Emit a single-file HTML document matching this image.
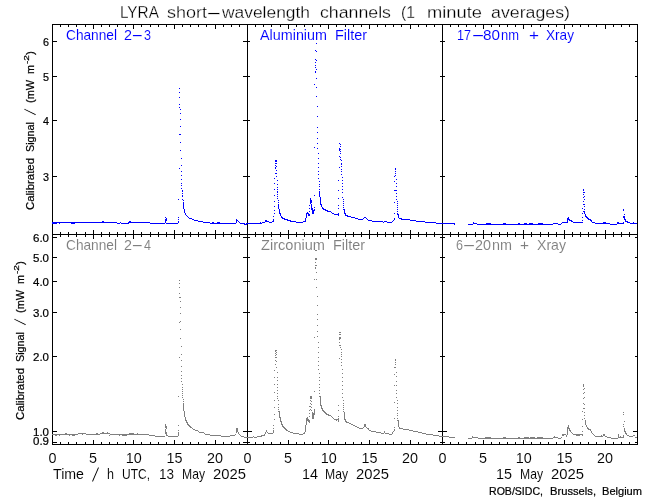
<!DOCTYPE html>
<html lang="en">
<head>
<meta charset="utf-8">
<title>LYRA short-wavelength channels (1 minute averages)</title>
<style>
html,body{margin:0;padding:0;background:#fff;}
svg{display:block;}
text{font-family:"Liberation Sans",sans-serif;white-space:pre;stroke:#fff;stroke-width:0;}
.L{font-size:17.4px;stroke-width:0.28px;}
.M{font-size:14.5px;stroke-width:0.08px;}
.S{font-size:11.6px;stroke:#000;stroke-width:0.22px;}
</style>
</head>
<body>
<svg width="650" height="500" viewBox="0 0 650 500">
<rect width="650" height="500" fill="#fff"/>
<g>
<text class="L" y="18"><tspan x="120" textLength="38" lengthAdjust="spacingAndGlyphs">LYRA</tspan> <tspan x="167" textLength="40" lengthAdjust="spacingAndGlyphs">short</tspan><tspan x="205.84" textLength="16.32" lengthAdjust="spacingAndGlyphs">-</tspan><tspan x="222" textLength="88" lengthAdjust="spacingAndGlyphs">wavelength</tspan> <tspan x="320" textLength="71" lengthAdjust="spacingAndGlyphs">channels</tspan> <tspan x="401" textLength="14" lengthAdjust="spacingAndGlyphs">(1</tspan> <tspan x="427" textLength="55" lengthAdjust="spacingAndGlyphs">minute</tspan> <tspan x="491" textLength="79" lengthAdjust="spacingAndGlyphs">averages)</tspan></text>
<text class="M" y="40" fill="#0000ff"><tspan x="66" textLength="51" lengthAdjust="spacingAndGlyphs">Channel</tspan> <tspan x="124" textLength="8" lengthAdjust="spacingAndGlyphs">2</tspan><tspan x="131.38" textLength="12.24" lengthAdjust="spacingAndGlyphs">-</tspan><tspan x="144" textLength="7" lengthAdjust="spacingAndGlyphs">3</tspan></text>
<text class="M" y="40" fill="#0000ff"><tspan x="260" textLength="67" lengthAdjust="spacingAndGlyphs">Aluminium</tspan> <tspan x="335" textLength="32" lengthAdjust="spacingAndGlyphs">Filter</tspan></text>
<text class="M" y="40" fill="#0000ff"><tspan x="457" textLength="14" lengthAdjust="spacingAndGlyphs">17</tspan><tspan x="471.2" textLength="13.6" lengthAdjust="spacingAndGlyphs">-</tspan><tspan x="483" textLength="17" lengthAdjust="spacingAndGlyphs">80</tspan><tspan x="501" textLength="18" lengthAdjust="spacingAndGlyphs">nm</tspan> <tspan x="529" textLength="10" lengthAdjust="spacingAndGlyphs">+</tspan> <tspan x="546" textLength="28" lengthAdjust="spacingAndGlyphs">Xray</tspan></text>
<text class="M" y="250" fill="#7f7f7f"><tspan x="66" textLength="51" lengthAdjust="spacingAndGlyphs">Channel</tspan> <tspan x="124" textLength="8" lengthAdjust="spacingAndGlyphs">2</tspan><tspan x="131.38" textLength="12.24" lengthAdjust="spacingAndGlyphs">-</tspan><tspan x="144" textLength="7" lengthAdjust="spacingAndGlyphs">4</tspan></text>
<text class="M" y="250" fill="#7f7f7f"><tspan x="261" textLength="64" lengthAdjust="spacingAndGlyphs">Zirconium</tspan> <tspan x="333" textLength="32" lengthAdjust="spacingAndGlyphs">Filter</tspan></text>
<text class="M" y="250" fill="#7f7f7f"><tspan x="456" textLength="7" lengthAdjust="spacingAndGlyphs">6</tspan><tspan x="462.2" textLength="13.6" lengthAdjust="spacingAndGlyphs">-</tspan><tspan x="475" textLength="16" lengthAdjust="spacingAndGlyphs">20</tspan><tspan x="492" textLength="20" lengthAdjust="spacingAndGlyphs">nm</tspan> <tspan x="520" textLength="9" lengthAdjust="spacingAndGlyphs">+</tspan> <tspan x="537" textLength="29" lengthAdjust="spacingAndGlyphs">Xray</tspan></text>
<text class="M" x="48.5" y="463" textLength="8" lengthAdjust="spacingAndGlyphs">0</text>
<text class="M" x="89.1" y="463" textLength="8" lengthAdjust="spacingAndGlyphs">5</text>
<text class="M" x="125.8" y="463" textLength="16" lengthAdjust="spacingAndGlyphs">10</text>
<text class="M" x="166.4" y="463" textLength="16" lengthAdjust="spacingAndGlyphs">15</text>
<text class="M" x="207.0" y="463" textLength="16" lengthAdjust="spacingAndGlyphs">20</text>
<text class="M" x="243.5" y="463" textLength="8" lengthAdjust="spacingAndGlyphs">0</text>
<text class="M" x="284.1" y="463" textLength="8" lengthAdjust="spacingAndGlyphs">5</text>
<text class="M" x="320.8" y="463" textLength="16" lengthAdjust="spacingAndGlyphs">10</text>
<text class="M" x="361.4" y="463" textLength="16" lengthAdjust="spacingAndGlyphs">15</text>
<text class="M" x="402.0" y="463" textLength="16" lengthAdjust="spacingAndGlyphs">20</text>
<text class="M" x="438.5" y="463" textLength="8" lengthAdjust="spacingAndGlyphs">0</text>
<text class="M" x="479.1" y="463" textLength="8" lengthAdjust="spacingAndGlyphs">5</text>
<text class="M" x="515.8" y="463" textLength="16" lengthAdjust="spacingAndGlyphs">10</text>
<text class="M" x="556.4" y="463" textLength="16" lengthAdjust="spacingAndGlyphs">15</text>
<text class="M" x="597.0" y="463" textLength="16" lengthAdjust="spacingAndGlyphs">20</text>
<text class="M" y="479"><tspan x="53" textLength="31" lengthAdjust="spacingAndGlyphs">Time</tspan> <tspan x="91" dy="2.5" font-size="20" stroke="#fff" stroke-width="0.9" textLength="9" lengthAdjust="spacingAndGlyphs">/</tspan><tspan dy="-2.5" font-size="1"> </tspan><tspan x="107" textLength="7" lengthAdjust="spacingAndGlyphs">h</tspan> <tspan x="122" textLength="28" lengthAdjust="spacingAndGlyphs">UTC,</tspan> <tspan x="159" textLength="15" lengthAdjust="spacingAndGlyphs">13</tspan> <tspan x="182" textLength="23" lengthAdjust="spacingAndGlyphs">May</tspan> <tspan x="213" textLength="33" lengthAdjust="spacingAndGlyphs">2025</tspan></text>
<text class="M" y="479"><tspan x="302" textLength="16" lengthAdjust="spacingAndGlyphs">14</tspan> <tspan x="325" textLength="23" lengthAdjust="spacingAndGlyphs">May</tspan> <tspan x="356" textLength="33" lengthAdjust="spacingAndGlyphs">2025</tspan></text>
<text class="M" y="479"><tspan x="496" textLength="16" lengthAdjust="spacingAndGlyphs">15</tspan> <tspan x="520" textLength="23" lengthAdjust="spacingAndGlyphs">May</tspan> <tspan x="551" textLength="33" lengthAdjust="spacingAndGlyphs">2025</tspan></text>
<text class="S" y="495"><tspan x="489" textLength="54" lengthAdjust="spacingAndGlyphs">ROB/SIDC,</tspan> <tspan x="550" textLength="46" lengthAdjust="spacingAndGlyphs">Brussels,</tspan> <tspan x="602" textLength="40" lengthAdjust="spacingAndGlyphs">Belgium</tspan></text>
<text class="S" x="43" y="46" textLength="6" lengthAdjust="spacingAndGlyphs">6</text>
<text class="S" x="43" y="81" textLength="6" lengthAdjust="spacingAndGlyphs">5</text>
<text class="S" x="43" y="125" textLength="6" lengthAdjust="spacingAndGlyphs">4</text>
<text class="S" x="43" y="181" textLength="6" lengthAdjust="spacingAndGlyphs">3</text>
<text class="S" x="33" y="242" textLength="16" lengthAdjust="spacingAndGlyphs">6.0</text>
<text class="S" x="33" y="262" textLength="16" lengthAdjust="spacingAndGlyphs">5.0</text>
<text class="S" x="33" y="286" textLength="16" lengthAdjust="spacingAndGlyphs">4.0</text>
<text class="S" x="33" y="317" textLength="16" lengthAdjust="spacingAndGlyphs">3.0</text>
<text class="S" x="33" y="361" textLength="16" lengthAdjust="spacingAndGlyphs">2.0</text>
<text class="S" x="33" y="436" textLength="16" lengthAdjust="spacingAndGlyphs">1.0</text>
<text class="S" x="33" y="445" textLength="16" lengthAdjust="spacingAndGlyphs">0.9</text>
<text class="S" transform="translate(34 210) rotate(-90)" y="0"><tspan x="0" textLength="52" lengthAdjust="spacingAndGlyphs">Calibrated</tspan> <tspan x="58" textLength="30" lengthAdjust="spacingAndGlyphs">Signal</tspan> <tspan x="94" dy="2" font-size="16" stroke="#fff" stroke-width="0.7" textLength="8" lengthAdjust="spacingAndGlyphs">/</tspan><tspan dy="-2" font-size="1"> </tspan><tspan x="107" textLength="23" lengthAdjust="spacingAndGlyphs">(mW</tspan> <tspan x="136" textLength="9" lengthAdjust="spacingAndGlyphs">m</tspan><tspan x="146" textLength="9" lengthAdjust="spacingAndGlyphs" dy="-5" font-size="7.5">-2</tspan><tspan x="155" textLength="4" lengthAdjust="spacingAndGlyphs" dy="5">)</tspan></text>
<text class="S" transform="translate(24 420) rotate(-90)" y="0"><tspan x="0" textLength="52" lengthAdjust="spacingAndGlyphs">Calibrated</tspan> <tspan x="58" textLength="30" lengthAdjust="spacingAndGlyphs">Signal</tspan> <tspan x="94" dy="2" font-size="16" stroke="#fff" stroke-width="0.7" textLength="8" lengthAdjust="spacingAndGlyphs">/</tspan><tspan dy="-2" font-size="1"> </tspan><tspan x="107" textLength="23" lengthAdjust="spacingAndGlyphs">(mW</tspan> <tspan x="136" textLength="9" lengthAdjust="spacingAndGlyphs">m</tspan><tspan x="146" textLength="9" lengthAdjust="spacingAndGlyphs" dy="-5" font-size="7.5">-2</tspan><tspan x="155" textLength="4" lengthAdjust="spacingAndGlyphs" dy="5">)</tspan></text>
</g>
<g shape-rendering="crispEdges">
<path fill="#000" d="M52 24h586v1h-586zM52 234h586v1h-586zM52 444h586v1h-586zM52 24h1v421h-1zM247 24h1v421h-1zM442 24h1v421h-1zM637 24h1v421h-1zM60 25h1v2h-1zM60 232h1v5h-1zM60 442h1v2h-1zM68 25h1v2h-1zM68 232h1v5h-1zM68 442h1v2h-1zM76 25h1v2h-1zM76 232h1v5h-1zM76 442h1v2h-1zM85 25h1v2h-1zM85 232h1v5h-1zM85 442h1v2h-1zM93 25h1v4h-1zM93 230h1v9h-1zM93 440h1v4h-1zM101 25h1v2h-1zM101 232h1v5h-1zM101 442h1v2h-1zM109 25h1v2h-1zM109 232h1v5h-1zM109 442h1v2h-1zM117 25h1v2h-1zM117 232h1v5h-1zM117 442h1v2h-1zM125 25h1v2h-1zM125 232h1v5h-1zM125 442h1v2h-1zM133 25h1v4h-1zM133 230h1v9h-1zM133 440h1v4h-1zM141 25h1v2h-1zM141 232h1v5h-1zM141 442h1v2h-1zM150 25h1v2h-1zM150 232h1v5h-1zM150 442h1v2h-1zM158 25h1v2h-1zM158 232h1v5h-1zM158 442h1v2h-1zM166 25h1v2h-1zM166 232h1v5h-1zM166 442h1v2h-1zM174 25h1v4h-1zM174 230h1v9h-1zM174 440h1v4h-1zM182 25h1v2h-1zM182 232h1v5h-1zM182 442h1v2h-1zM190 25h1v2h-1zM190 232h1v5h-1zM190 442h1v2h-1zM198 25h1v2h-1zM198 232h1v5h-1zM198 442h1v2h-1zM206 25h1v2h-1zM206 232h1v5h-1zM206 442h1v2h-1zM215 25h1v4h-1zM215 230h1v9h-1zM215 440h1v4h-1zM223 25h1v2h-1zM223 232h1v5h-1zM223 442h1v2h-1zM231 25h1v2h-1zM231 232h1v5h-1zM231 442h1v2h-1zM239 25h1v2h-1zM239 232h1v5h-1zM239 442h1v2h-1zM255 25h1v2h-1zM255 232h1v5h-1zM255 442h1v2h-1zM263 25h1v2h-1zM263 232h1v5h-1zM263 442h1v2h-1zM271 25h1v2h-1zM271 232h1v5h-1zM271 442h1v2h-1zM280 25h1v2h-1zM280 232h1v5h-1zM280 442h1v2h-1zM288 25h1v4h-1zM288 230h1v9h-1zM288 440h1v4h-1zM296 25h1v2h-1zM296 232h1v5h-1zM296 442h1v2h-1zM304 25h1v2h-1zM304 232h1v5h-1zM304 442h1v2h-1zM312 25h1v2h-1zM312 232h1v5h-1zM312 442h1v2h-1zM320 25h1v2h-1zM320 232h1v5h-1zM320 442h1v2h-1zM328 25h1v4h-1zM328 230h1v9h-1zM328 440h1v4h-1zM336 25h1v2h-1zM336 232h1v5h-1zM336 442h1v2h-1zM345 25h1v2h-1zM345 232h1v5h-1zM345 442h1v2h-1zM353 25h1v2h-1zM353 232h1v5h-1zM353 442h1v2h-1zM361 25h1v2h-1zM361 232h1v5h-1zM361 442h1v2h-1zM369 25h1v4h-1zM369 230h1v9h-1zM369 440h1v4h-1zM377 25h1v2h-1zM377 232h1v5h-1zM377 442h1v2h-1zM385 25h1v2h-1zM385 232h1v5h-1zM385 442h1v2h-1zM393 25h1v2h-1zM393 232h1v5h-1zM393 442h1v2h-1zM401 25h1v2h-1zM401 232h1v5h-1zM401 442h1v2h-1zM410 25h1v4h-1zM410 230h1v9h-1zM410 440h1v4h-1zM418 25h1v2h-1zM418 232h1v5h-1zM418 442h1v2h-1zM426 25h1v2h-1zM426 232h1v5h-1zM426 442h1v2h-1zM434 25h1v2h-1zM434 232h1v5h-1zM434 442h1v2h-1zM450 25h1v2h-1zM450 232h1v5h-1zM450 442h1v2h-1zM458 25h1v2h-1zM458 232h1v5h-1zM458 442h1v2h-1zM466 25h1v2h-1zM466 232h1v5h-1zM466 442h1v2h-1zM475 25h1v2h-1zM475 232h1v5h-1zM475 442h1v2h-1zM483 25h1v4h-1zM483 230h1v9h-1zM483 440h1v4h-1zM491 25h1v2h-1zM491 232h1v5h-1zM491 442h1v2h-1zM499 25h1v2h-1zM499 232h1v5h-1zM499 442h1v2h-1zM507 25h1v2h-1zM507 232h1v5h-1zM507 442h1v2h-1zM515 25h1v2h-1zM515 232h1v5h-1zM515 442h1v2h-1zM523 25h1v4h-1zM523 230h1v9h-1zM523 440h1v4h-1zM531 25h1v2h-1zM531 232h1v5h-1zM531 442h1v2h-1zM540 25h1v2h-1zM540 232h1v5h-1zM540 442h1v2h-1zM548 25h1v2h-1zM548 232h1v5h-1zM548 442h1v2h-1zM556 25h1v2h-1zM556 232h1v5h-1zM556 442h1v2h-1zM564 25h1v4h-1zM564 230h1v9h-1zM564 440h1v4h-1zM572 25h1v2h-1zM572 232h1v5h-1zM572 442h1v2h-1zM580 25h1v2h-1zM580 232h1v5h-1zM580 442h1v2h-1zM588 25h1v2h-1zM588 232h1v5h-1zM588 442h1v2h-1zM596 25h1v2h-1zM596 232h1v5h-1zM596 442h1v2h-1zM605 25h1v4h-1zM605 230h1v9h-1zM605 440h1v4h-1zM613 25h1v2h-1zM613 232h1v5h-1zM613 442h1v2h-1zM621 25h1v2h-1zM621 232h1v5h-1zM621 442h1v2h-1zM629 25h1v2h-1zM629 232h1v5h-1zM629 442h1v2h-1zM53 41h4v1h-4zM243 41h4v1h-4zM248 41h2v1h-2zM440 41h2v1h-2zM443 41h2v1h-2zM635 41h2v1h-2zM53 76h4v1h-4zM243 76h4v1h-4zM248 76h2v1h-2zM440 76h2v1h-2zM443 76h2v1h-2zM635 76h2v1h-2zM53 120h4v1h-4zM243 120h4v1h-4zM248 120h2v1h-2zM440 120h2v1h-2zM443 120h2v1h-2zM635 120h2v1h-2zM53 176h4v1h-4zM243 176h4v1h-4zM248 176h2v1h-2zM440 176h2v1h-2zM443 176h2v1h-2zM635 176h2v1h-2zM53 237h4v1h-4zM243 237h4v1h-4zM248 237h2v1h-2zM440 237h2v1h-2zM443 237h2v1h-2zM635 237h2v1h-2zM53 257h4v1h-4zM243 257h4v1h-4zM248 257h2v1h-2zM440 257h2v1h-2zM443 257h2v1h-2zM635 257h2v1h-2zM53 281h4v1h-4zM243 281h4v1h-4zM248 281h2v1h-2zM440 281h2v1h-2zM443 281h2v1h-2zM635 281h2v1h-2zM53 312h4v1h-4zM243 312h4v1h-4zM248 312h2v1h-2zM440 312h2v1h-2zM443 312h2v1h-2zM635 312h2v1h-2zM53 356h4v1h-4zM243 356h4v1h-4zM248 356h2v1h-2zM440 356h2v1h-2zM443 356h2v1h-2zM635 356h2v1h-2zM53 431h4v1h-4zM243 431h4v1h-4zM248 431h4v1h-4zM438 431h4v1h-4zM443 431h4v1h-4zM633 431h4v1h-4zM53 442h4v1h-4zM243 442h4v1h-4zM248 442h2v1h-2zM440 442h2v1h-2zM443 442h2v1h-2zM635 442h2v1h-2z"/>
<path fill="#0000ff" d="M316 43h1v1h-1zM315 50h1v1h-1zM316 51h1v1h-1zM315 59h1v1h-1zM316 60h1v1h-1zM315 62h1v1h-1zM315 65h1v1h-1zM315 67h1v1h-1zM316 69h1v1h-1zM315 71h1v1h-1zM315 72h1v1h-1zM316 78h1v1h-1zM314 84h1v1h-1zM316 87h1v1h-1zM179 88h1v1h-1zM179 92h1v1h-1zM316 96h1v1h-1zM179 97h1v1h-1zM179 104h1v1h-1zM317 106h1v1h-1zM179 107h1v1h-1zM180 109h1v1h-1zM180 113h1v1h-1zM317 116h1v1h-1zM180 119h1v1h-1zM180 126h1v1h-1zM317 127h1v1h-1zM317 132h1v1h-1zM179 134h2v1h-2zM317 138h1v1h-1zM180 142h1v1h-1zM317 143h1v1h-1zM339 143h1v1h-1zM340 144h1v1h-1zM340 146h1v1h-1zM314 147h1v1h-1zM317 148h1v1h-1zM339 148h1v1h-1zM339 149h2v1h-2zM180 150h1v1h-1zM339 150h1v1h-1zM340 151h1v1h-1zM318 153h1v1h-1zM340 153h1v1h-1zM339 156h1v1h-1zM340 157h1v1h-1zM181 158h1v1h-1zM318 158h1v1h-1zM340 159h1v1h-1zM275 160h2v1h-2zM341 160h1v1h-1zM275 161h2v1h-2zM275 163h2v1h-2zM318 163h1v1h-1zM341 163h1v1h-1zM341 164h1v1h-1zM181 165h1v1h-1zM275 165h1v1h-1zM276 166h1v1h-1zM341 166h1v1h-1zM275 167h1v1h-1zM318 167h1v1h-1zM339 167h1v1h-1zM179 168h1v1h-1zM275 168h1v1h-1zM395 168h1v1h-1zM341 169h1v1h-1zM395 169h1v1h-1zM276 170h1v1h-1zM181 171h1v1h-1zM318 171h1v1h-1zM341 171h1v1h-1zM395 171h1v1h-1zM275 173h2v1h-2zM395 173h1v1h-1zM318 174h1v1h-1zM341 174h1v1h-1zM181 175h1v1h-1zM395 175h1v1h-1zM276 176h1v1h-1zM394 176h1v1h-1zM342 177h1v1h-1zM274 178h1v1h-1zM318 178h1v1h-1zM181 179h1v1h-1zM396 179h1v1h-1zM277 180h1v1h-1zM338 180h1v1h-1zM342 180h1v1h-1zM319 181h1v1h-1zM394 181h1v1h-1zM181 183h1v1h-1zM274 183h1v1h-1zM342 183h1v1h-1zM396 183h1v1h-1zM277 184h1v1h-1zM319 184h1v1h-1zM181 185h1v1h-1zM319 186h1v1h-1zM342 186h1v1h-1zM396 186h1v1h-1zM277 187h1v1h-1zM181 188h1v1h-1zM274 189h1v1h-1zM277 189h1v1h-1zM319 189h1v1h-1zM342 189h1v1h-1zM583 189h1v1h-1zM182 190h1v1h-1zM338 190h1v1h-1zM394 190h3v1h-3zM583 190h1v1h-1zM182 191h1v1h-1zM277 191h1v1h-1zM319 191h1v1h-1zM277 192h1v1h-1zM319 192h1v1h-1zM342 192h1v1h-1zM583 192h2v1h-2zM182 193h1v1h-1zM319 193h1v1h-1zM396 193h1v1h-1zM277 194h1v1h-1zM319 194h1v1h-1zM583 194h1v1h-1zM182 195h1v1h-1zM274 195h1v1h-1zM314 195h1v1h-1zM319 195h1v1h-1zM182 196h1v1h-1zM277 196h1v1h-1zM319 196h1v1h-1zM396 196h1v1h-1zM584 196h1v1h-1zM320 197h1v1h-1zM342 197h1v1h-1zM583 197h1v1h-1zM277 198h1v1h-1zM310 198h1v1h-1zM320 198h1v1h-1zM338 198h1v1h-1zM178 199h1v1h-1zM182 199h1v1h-1zM310 199h1v1h-1zM320 199h1v1h-1zM343 199h1v1h-1zM396 199h1v1h-1zM584 199h1v1h-1zM183 200h1v1h-1zM278 200h1v1h-1zM310 200h2v1h-2zM320 200h1v1h-1zM274 201h1v1h-1zM310 201h2v1h-2zM320 201h1v1h-1zM343 201h1v1h-1zM397 201h1v1h-1zM583 201h1v1h-1zM183 202h1v1h-1zM278 202h1v1h-1zM310 202h2v1h-2zM320 202h1v1h-1zM394 202h1v1h-1zM183 203h1v1h-1zM310 203h1v1h-1zM320 203h1v1h-1zM343 203h1v1h-1zM397 203h1v1h-1zM183 204h1v1h-1zM278 204h1v1h-1zM311 204h1v1h-1zM320 204h2v1h-2zM583 204h2v1h-2zM183 205h1v1h-1zM278 205h1v1h-1zM309 205h1v1h-1zM311 205h1v1h-1zM321 205h1v1h-1zM338 205h1v1h-1zM343 205h1v1h-1zM397 205h1v1h-1zM183 206h1v1h-1zM274 206h1v1h-1zM278 206h1v1h-1zM311 206h1v1h-1zM321 206h1v1h-1zM584 206h1v1h-1zM183 207h1v1h-1zM278 207h1v1h-1zM311 207h1v1h-1zM314 207h1v1h-1zM322 207h1v1h-1zM343 207h1v1h-1zM397 207h1v1h-1zM183 208h1v1h-1zM278 208h1v1h-1zM309 208h1v1h-1zM311 208h2v1h-2zM322 208h2v1h-2zM338 208h1v1h-1zM582 208h1v1h-1zM184 209h1v1h-1zM279 209h1v1h-1zM311 209h2v1h-2zM314 209h1v1h-1zM323 209h3v1h-3zM343 209h2v1h-2zM397 209h1v1h-1zM584 209h1v1h-1zM623 209h1v1h-1zM184 210h1v1h-1zM274 210h1v1h-1zM279 210h1v1h-1zM312 210h3v1h-3zM325 210h3v1h-3zM344 210h1v1h-1zM623 210h1v1h-1zM184 211h1v1h-1zM279 211h1v1h-1zM309 211h1v1h-1zM312 211h2v1h-2zM327 211h4v1h-4zM344 211h1v1h-1zM397 211h1v1h-1zM583 211h2v1h-2zM184 212h1v1h-1zM279 212h1v1h-1zM307 212h1v1h-1zM312 212h2v1h-2zM331 212h1v1h-1zM344 212h1v1h-1zM584 212h1v1h-1zM185 213h1v1h-1zM274 213h1v1h-1zM279 213h2v1h-2zM306 213h3v1h-3zM312 213h2v1h-2zM332 213h2v1h-2zM338 213h1v1h-1zM344 213h2v1h-2zM394 213h1v1h-1zM397 213h1v1h-1zM582 213h1v1h-1zM584 213h1v1h-1zM185 214h1v1h-1zM280 214h1v1h-1zM306 214h1v1h-1zM308 214h2v1h-2zM334 214h5v1h-5zM345 214h1v1h-1zM397 214h2v1h-2zM585 214h1v1h-1zM624 214h1v1h-1zM186 215h1v1h-1zM280 215h1v1h-1zM306 215h1v1h-1zM308 215h2v1h-2zM338 215h1v1h-1zM345 215h3v1h-3zM398 215h1v1h-1zM585 215h1v1h-1zM187 216h1v1h-1zM273 216h1v1h-1zM281 216h1v1h-1zM306 216h1v1h-1zM347 216h4v1h-4zM398 216h1v1h-1zM585 216h2v1h-2zM623 216h2v1h-2zM165 217h1v1h-1zM178 217h1v1h-1zM188 217h1v1h-1zM281 217h2v1h-2zM306 217h1v1h-1zM351 217h4v1h-4zM364 217h2v1h-2zM398 217h1v1h-1zM568 217h1v1h-1zM582 217h1v1h-1zM586 217h2v1h-2zM623 217h2v1h-2zM166 218h1v1h-1zM189 218h3v1h-3zM282 218h3v1h-3zM305 218h1v1h-1zM355 218h3v1h-3zM363 218h1v1h-1zM366 218h1v1h-1zM394 218h1v1h-1zM399 218h3v1h-3zM567 218h2v1h-2zM587 218h2v1h-2zM624 218h1v1h-1zM165 219h2v1h-2zM178 219h1v1h-1zM192 219h2v1h-2zM236 219h1v1h-1zM273 219h1v1h-1zM284 219h4v1h-4zM305 219h1v1h-1zM358 219h5v1h-5zM367 219h1v1h-1zM394 219h1v1h-1zM401 219h9v1h-9zM567 219h3v1h-3zM588 219h3v1h-3zM624 219h2v1h-2zM165 220h2v1h-2zM194 220h4v1h-4zM236 220h2v1h-2zM265 220h2v1h-2zM273 220h1v1h-1zM287 220h4v1h-4zM305 220h1v1h-1zM368 220h4v1h-4zM393 220h1v1h-1zM410 220h6v1h-6zM567 220h1v1h-1zM569 220h3v1h-3zM582 220h1v1h-1zM590 220h2v1h-2zM625 220h1v1h-1zM102 221h2v1h-2zM129 221h2v1h-2zM165 221h1v1h-1zM178 221h1v1h-1zM198 221h5v1h-5zM236 221h1v1h-1zM238 221h1v1h-1zM265 221h4v1h-4zM272 221h2v1h-2zM290 221h6v1h-6zM303 221h3v1h-3zM372 221h11v1h-11zM384 221h3v1h-3zM392 221h1v1h-1zM416 221h9v1h-9zM567 221h1v1h-1zM571 221h2v1h-2zM591 221h1v1h-1zM625 221h3v1h-3zM52 222h65v1h-65zM120 222h1v1h-1zM128 222h22v1h-22zM165 222h1v1h-1zM178 222h1v1h-1zM203 222h7v1h-7zM212 222h2v1h-2zM217 222h3v1h-3zM236 222h1v1h-1zM239 222h1v1h-1zM260 222h1v1h-1zM262 222h3v1h-3zM269 222h3v1h-3zM296 222h7v1h-7zM383 222h1v1h-1zM387 222h5v1h-5zM425 222h11v1h-11zM473 222h1v1h-1zM562 222h6v1h-6zM573 222h10v1h-10zM592 222h3v1h-3zM603 222h3v1h-3zM617 222h2v1h-2zM623 222h1v1h-1zM627 222h3v1h-3zM633 222h1v1h-1zM52 223h5v1h-5zM59 223h1v1h-1zM71 223h4v1h-4zM117 223h3v1h-3zM121 223h8v1h-8zM150 223h15v1h-15zM166 223h12v1h-12zM210 223h26v1h-26zM240 223h5v1h-5zM246 223h16v1h-16zM436 223h19v1h-19zM473 223h4v1h-4zM486 223h5v1h-5zM503 223h3v1h-3zM518 223h2v1h-2zM524 223h3v1h-3zM529 223h4v1h-4zM538 223h5v1h-5zM553 223h5v1h-5zM561 223h1v1h-1zM595 223h15v1h-15zM617 223h7v1h-7zM630 223h7v1h-7zM244 224h3v1h-3zM454 224h1v1h-1zM468 224h5v1h-5zM477 224h76v1h-76zM558 224h3v1h-3zM610 224h7v1h-7z"/>
<path fill="#7f7f7f" d="M315 250h2v1h-2zM315 258h2v1h-2zM315 259h2v1h-2zM315 262h1v1h-1zM315 265h2v1h-2zM315 267h1v1h-1zM315 268h1v1h-1zM316 272h1v1h-1zM314 279h1v1h-1zM316 279h1v1h-1zM179 280h1v1h-1zM179 283h1v1h-1zM179 287h1v1h-1zM316 287h1v1h-1zM179 293h1v1h-1zM317 296h1v1h-1zM179 297h2v1h-2zM180 301h1v1h-1zM317 305h1v1h-1zM180 307h1v1h-1zM180 313h1v1h-1zM317 314h1v1h-1zM317 319h1v1h-1zM180 321h1v1h-1zM179 322h1v1h-1zM317 325h1v1h-1zM180 329h1v1h-1zM317 331h1v1h-1zM339 332h2v1h-2zM339 334h2v1h-2zM317 336h1v1h-1zM314 337h1v1h-1zM339 337h2v1h-2zM180 338h1v1h-1zM339 338h2v1h-2zM339 339h1v1h-1zM318 342h1v1h-1zM339 342h1v1h-1zM339 345h2v1h-2zM181 346h1v1h-1zM318 347h1v1h-1zM340 347h1v1h-1zM341 349h1v1h-1zM275 350h2v1h-2zM275 351h1v1h-1zM276 352h1v1h-1zM318 352h1v1h-1zM341 352h1v1h-1zM275 353h1v1h-1zM181 354h1v1h-1zM276 354h1v1h-1zM341 354h1v1h-1zM275 355h1v1h-1zM341 356h1v1h-1zM179 357h1v1h-1zM275 357h2v1h-2zM318 357h1v1h-1zM339 358h1v1h-1zM341 359h1v1h-1zM395 359h1v1h-1zM181 360h1v1h-1zM275 360h1v1h-1zM395 360h1v1h-1zM276 361h1v1h-1zM318 361h1v1h-1zM341 362h1v1h-1zM395 362h1v1h-1zM275 364h1v1h-1zM395 364h1v1h-1zM318 365h1v1h-1zM341 365h1v1h-1zM181 366h1v1h-1zM276 367h1v1h-1zM394 367h2v1h-2zM318 369h1v1h-1zM342 369h1v1h-1zM274 370h1v1h-1zM181 371h1v1h-1zM277 372h1v1h-1zM396 372h1v1h-1zM319 373h1v1h-1zM342 373h1v1h-1zM394 374h1v1h-1zM181 375h1v1h-1zM396 376h1v1h-1zM274 377h1v1h-1zM277 377h1v1h-1zM319 377h1v1h-1zM342 377h1v1h-1zM181 378h1v1h-1zM277 380h1v1h-1zM319 380h1v1h-1zM181 381h1v1h-1zM342 381h1v1h-1zM396 381h1v1h-1zM182 384h1v1h-1zM274 384h1v1h-1zM277 384h1v1h-1zM319 384h1v1h-1zM583 384h1v1h-1zM342 385h1v1h-1zM394 385h1v1h-1zM396 385h1v1h-1zM583 385h1v1h-1zM583 386h1v1h-1zM182 387h1v1h-1zM277 387h1v1h-1zM319 387h1v1h-1zM584 388h1v1h-1zM182 389h1v1h-1zM342 389h1v1h-1zM583 389h1v1h-1zM277 390h1v1h-1zM319 390h1v1h-1zM396 390h1v1h-1zM182 391h1v1h-1zM314 391h1v1h-1zM274 392h1v1h-1zM584 392h1v1h-1zM182 393h1v1h-1zM277 393h1v1h-1zM319 393h1v1h-1zM342 393h1v1h-1zM396 393h1v1h-1zM583 393h1v1h-1zM182 395h1v1h-1zM178 396h1v1h-1zM277 396h1v1h-1zM310 396h2v1h-2zM319 396h2v1h-2zM182 397h1v1h-1zM310 397h2v1h-2zM320 397h1v1h-1zM342 397h1v1h-1zM396 397h1v1h-1zM584 397h1v1h-1zM277 398h1v1h-1zM310 398h2v1h-2zM320 398h1v1h-1zM583 398h1v1h-1zM183 399h1v1h-1zM320 399h1v1h-1zM274 400h1v1h-1zM278 400h1v1h-1zM310 400h1v1h-1zM320 400h1v1h-1zM343 400h1v1h-1zM397 400h1v1h-1zM183 401h1v1h-1zM311 401h1v1h-1zM320 401h1v1h-1zM320 402h1v1h-1zM394 402h1v1h-1zM183 403h1v1h-1zM310 403h1v1h-1zM320 403h1v1h-1zM343 403h1v1h-1zM397 403h1v1h-1zM583 403h1v1h-1zM183 404h1v1h-1zM278 404h1v1h-1zM311 404h1v1h-1zM320 404h1v1h-1zM584 404h1v1h-1zM183 405h1v1h-1zM320 405h2v1h-2zM338 405h1v1h-1zM343 405h1v1h-1zM183 406h1v1h-1zM309 406h2v1h-2zM321 406h1v1h-1zM183 407h1v1h-1zM274 407h1v1h-1zM278 407h1v1h-1zM311 407h1v1h-1zM321 407h1v1h-1zM343 407h1v1h-1zM397 407h1v1h-1zM183 408h1v1h-1zM321 408h2v1h-2zM583 408h2v1h-2zM183 409h1v1h-1zM278 409h1v1h-1zM310 409h1v1h-1zM314 409h1v1h-1zM322 409h1v1h-1zM343 409h1v1h-1zM183 410h1v1h-1zM309 410h1v1h-1zM311 410h1v1h-1zM314 410h1v1h-1zM322 410h2v1h-2zM338 410h1v1h-1zM397 410h1v1h-1zM184 411h1v1h-1zM278 411h2v1h-2zM314 411h1v1h-1zM323 411h2v1h-2zM343 411h1v1h-1zM582 411h1v1h-1zM184 412h1v1h-1zM279 412h1v1h-1zM312 412h1v1h-1zM314 412h1v1h-1zM324 412h2v1h-2zM344 412h1v1h-1zM584 412h1v1h-1zM623 412h1v1h-1zM184 413h1v1h-1zM279 413h1v1h-1zM309 413h1v1h-1zM312 413h3v1h-3zM325 413h2v1h-2zM344 413h1v1h-1zM397 413h1v1h-1zM184 414h1v1h-1zM274 414h1v1h-1zM279 414h1v1h-1zM312 414h3v1h-3zM326 414h3v1h-3zM344 414h1v1h-1zM623 414h1v1h-1zM184 415h1v1h-1zM279 415h1v1h-1zM312 415h2v1h-2zM328 415h3v1h-3zM344 415h1v1h-1zM397 415h1v1h-1zM584 415h1v1h-1zM184 416h1v1h-1zM279 416h1v1h-1zM309 416h1v1h-1zM312 416h2v1h-2zM331 416h1v1h-1zM338 416h1v1h-1zM344 416h1v1h-1zM185 417h1v1h-1zM279 417h2v1h-2zM307 417h1v1h-1zM312 417h2v1h-2zM332 417h1v1h-1zM344 417h1v1h-1zM185 418h1v1h-1zM280 418h1v1h-1zM306 418h2v1h-2zM312 418h2v1h-2zM333 418h1v1h-1zM338 418h1v1h-1zM344 418h1v1h-1zM394 418h1v1h-1zM397 418h1v1h-1zM584 418h1v1h-1zM185 419h1v1h-1zM274 419h1v1h-1zM280 419h1v1h-1zM306 419h3v1h-3zM334 419h5v1h-5zM344 419h2v1h-2zM582 419h1v1h-1zM185 420h2v1h-2zM280 420h1v1h-1zM306 420h4v1h-4zM336 420h1v1h-1zM338 420h1v1h-1zM345 420h1v1h-1zM397 420h2v1h-2zM585 420h1v1h-1zM186 421h1v1h-1zM280 421h2v1h-2zM306 421h1v1h-1zM308 421h2v1h-2zM338 421h1v1h-1zM345 421h2v1h-2zM398 421h1v1h-1zM585 421h1v1h-1zM624 421h1v1h-1zM186 422h2v1h-2zM281 422h1v1h-1zM306 422h1v1h-1zM309 422h1v1h-1zM346 422h3v1h-3zM398 422h1v1h-1zM585 422h1v1h-1zM187 423h1v1h-1zM281 423h1v1h-1zM306 423h1v1h-1zM349 423h2v1h-2zM398 423h1v1h-1zM585 423h1v1h-1zM165 424h1v1h-1zM187 424h2v1h-2zM281 424h2v1h-2zM306 424h1v1h-1zM351 424h2v1h-2zM364 424h2v1h-2zM398 424h1v1h-1zM585 424h1v1h-1zM623 424h1v1h-1zM165 425h1v1h-1zM178 425h1v1h-1zM188 425h2v1h-2zM273 425h1v1h-1zM282 425h1v1h-1zM305 425h1v1h-1zM353 425h2v1h-2zM364 425h2v1h-2zM398 425h1v1h-1zM568 425h1v1h-1zM586 425h1v1h-1zM165 426h2v1h-2zM189 426h2v1h-2zM282 426h2v1h-2zM305 426h1v1h-1zM355 426h2v1h-2zM364 426h2v1h-2zM398 426h1v1h-1zM568 426h1v1h-1zM582 426h1v1h-1zM586 426h1v1h-1zM623 426h1v1h-1zM165 427h2v1h-2zM190 427h2v1h-2zM283 427h2v1h-2zM305 427h1v1h-1zM357 427h2v1h-2zM363 427h1v1h-1zM366 427h1v1h-1zM394 427h1v1h-1zM399 427h1v1h-1zM567 427h2v1h-2zM587 427h1v1h-1zM166 428h1v1h-1zM192 428h1v1h-1zM236 428h2v1h-2zM273 428h1v1h-1zM284 428h2v1h-2zM305 428h1v1h-1zM359 428h4v1h-4zM367 428h2v1h-2zM399 428h4v1h-4zM567 428h3v1h-3zM587 428h2v1h-2zM624 428h1v1h-1zM165 429h1v1h-1zM193 429h2v1h-2zM236 429h2v1h-2zM285 429h2v1h-2zM305 429h1v1h-1zM368 429h1v1h-1zM394 429h1v1h-1zM403 429h6v1h-6zM567 429h1v1h-1zM569 429h1v1h-1zM588 429h3v1h-3zM624 429h1v1h-1zM165 430h1v1h-1zM178 430h1v1h-1zM195 430h3v1h-3zM236 430h2v1h-2zM266 430h1v1h-1zM273 430h1v1h-1zM286 430h2v1h-2zM305 430h1v1h-1zM369 430h2v1h-2zM394 430h1v1h-1zM409 430h4v1h-4zM567 430h1v1h-1zM569 430h2v1h-2zM590 430h1v1h-1zM624 430h1v1h-1zM165 431h1v1h-1zM198 431h1v1h-1zM236 431h2v1h-2zM266 431h1v1h-1zM273 431h1v1h-1zM288 431h2v1h-2zM305 431h1v1h-1zM371 431h5v1h-5zM384 431h1v1h-1zM393 431h1v1h-1zM413 431h5v1h-5zM567 431h1v1h-1zM570 431h1v1h-1zM582 431h1v1h-1zM591 431h1v1h-1zM624 431h2v1h-2zM102 432h2v1h-2zM107 432h1v1h-1zM165 432h2v1h-2zM178 432h1v1h-1zM199 432h5v1h-5zM236 432h1v1h-1zM238 432h1v1h-1zM265 432h1v1h-1zM267 432h1v1h-1zM273 432h1v1h-1zM290 432h3v1h-3zM304 432h1v1h-1zM376 432h5v1h-5zM384 432h1v1h-1zM392 432h1v1h-1zM418 432h4v1h-4zM567 432h1v1h-1zM571 432h1v1h-1zM591 432h1v1h-1zM625 432h1v1h-1zM65 433h2v1h-2zM78 433h8v1h-8zM96 433h2v1h-2zM100 433h10v1h-10zM129 433h5v1h-5zM137 433h1v1h-1zM165 433h2v1h-2zM178 433h1v1h-1zM204 433h1v1h-1zM238 433h1v1h-1zM265 433h1v1h-1zM268 433h5v1h-5zM293 433h6v1h-6zM303 433h2v1h-2zM381 433h3v1h-3zM385 433h4v1h-4zM392 433h1v1h-1zM422 433h4v1h-4zM567 433h1v1h-1zM572 433h1v1h-1zM592 433h1v1h-1zM625 433h2v1h-2zM52 434h26v1h-26zM82 434h1v1h-1zM86 434h14v1h-14zM110 434h39v1h-39zM166 434h1v1h-1zM178 434h1v1h-1zM205 434h5v1h-5zM235 434h1v1h-1zM239 434h1v1h-1zM264 434h1v1h-1zM299 434h4v1h-4zM389 434h3v1h-3zM426 434h7v1h-7zM562 434h4v1h-4zM567 434h1v1h-1zM573 434h10v1h-10zM593 434h1v1h-1zM603 434h2v1h-2zM618 434h1v1h-1zM626 434h1v1h-1zM55 435h2v1h-2zM59 435h1v1h-1zM69 435h1v1h-1zM72 435h3v1h-3zM109 435h1v1h-1zM119 435h1v1h-1zM122 435h5v1h-5zM149 435h6v1h-6zM166 435h2v1h-2zM178 435h1v1h-1zM210 435h11v1h-11zM230 435h5v1h-5zM240 435h1v1h-1zM261 435h4v1h-4zM433 435h6v1h-6zM562 435h2v1h-2zM566 435h1v1h-1zM576 435h4v1h-4zM582 435h1v1h-1zM594 435h1v1h-1zM601 435h1v1h-1zM603 435h2v1h-2zM618 435h1v1h-1zM623 435h1v1h-1zM627 435h2v1h-2zM633 435h2v1h-2zM155 436h10v1h-10zM168 436h10v1h-10zM221 436h9v1h-9zM241 436h3v1h-3zM253 436h1v1h-1zM257 436h5v1h-5zM439 436h10v1h-10zM472 436h1v1h-1zM554 436h1v1h-1zM566 436h1v1h-1zM595 436h8v1h-8zM605 436h2v1h-2zM618 436h1v1h-1zM620 436h1v1h-1zM623 436h1v1h-1zM629 436h4v1h-4zM244 437h9v1h-9zM254 437h3v1h-3zM449 437h6v1h-6zM472 437h6v1h-6zM485 437h6v1h-6zM503 437h3v1h-3zM518 437h2v1h-2zM524 437h5v1h-5zM530 437h5v1h-5zM537 437h6v1h-6zM553 437h5v1h-5zM561 437h1v1h-1zM607 437h4v1h-4zM618 437h6v1h-6zM635 437h2v1h-2zM468 438h4v1h-4zM478 438h75v1h-75zM558 438h3v1h-3zM611 438h7v1h-7z"/>
</g>
</svg>
</body>
</html>
